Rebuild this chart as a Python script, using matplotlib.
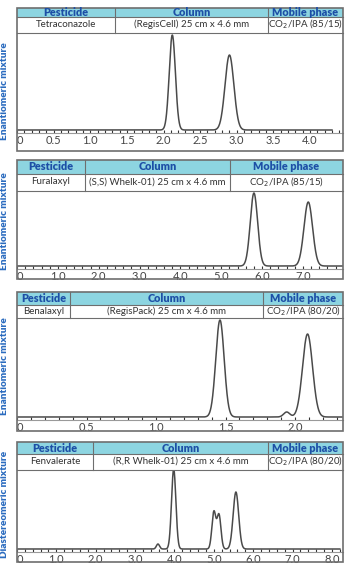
import numpy as np
import matplotlib.pyplot as plt
from matplotlib.patches import Rectangle

plt.rcParams["font.family"] = ["Lato", "DejaVu Sans"]

W, H = 350, 569

# table text
pesticides = ["Tetraconazole", "Furalaxyl", "Benalaxyl", "Fenvalerate"]
columns = ["(RegisCell) 25 cm x 4.6 mm", "(S,S) Whelk-01) 25 cm x 4.6 mm",
           "(RegisPack) 25 cm x 4.6 mm", "(R,R Whelk-01) 25 cm x 4.6 mm"]
phases = ["CO$_2$/IPA (85/15)", "CO$_2$/IPA (85/15)",
          "CO$_2$/IPA (80/20)", "CO$_2$/IPA (80/20)"]
mixtures = ["Enantiomeric mixture", "Enantiomeric mixture",
            "Enantiomeric mixture", "Diastereomeric mixture"]

# peaks: retention time (min), height, width (sigma, min)
rt_1 = [2.12, 2.90]
ht_1 = [95, 75]
sd_1 = [0.042, 0.06]

rt_2 = [5.80, 7.13]
ht_2 = [73, 64]
sd_2 = [0.09, 0.105]

rt_3 = [1.46, 1.94, 2.09]
ht_3 = [97, 5, 83]
sd_3 = [0.03, 0.022, 0.036]

rt_4 = [3.58, 3.98, 5.00, 5.13, 5.56]
ht_4 = [5, 80, 37, 34, 57]
sd_4 = [0.04, 0.055, 0.05, 0.05, 0.07]

ticks_1 = [0, 0.5, 1.0, 1.5, 2.0, 2.5, 3.0, 3.5, 4.0]
ticks_2 = [0, 1.0, 2.0, 3.0, 4.0, 5.0, 6.0, 7.0]
ticks_3 = [0, 0.5, 1.0, 1.5, 2.0]
ticks_4 = [0, 1.0, 2.0, 3.0, 4.0, 5.0, 6.0, 7.0, 8.0]

xmax = [4.45, 7.98, 2.345, 8.28]
trace_end = [4.30, 7.98, 2.345, 8.20]

# layout in pixels: box top, header bottom, row bottom, axis line, box bottom
boxes = [(8, 17, 33, 133, 151), (160, 174, 191, 269, 279),
         (292, 305, 318, 420, 431), (442, 454, 470, 552, 562)]
splits = [(115, 268), (85, 230), (70, 263), (93, 268)]
label_y = [91, 221, 366, 504]

X0, X1 = 17, 343
HEAD = "#8dd5e1"
BLUE = "#1d4fa6"
EDGE = "#6e6e6e"


def fx(x):
    return x / W


def fy(y):
    return 1 - y / H


def trace(t, rts, hts, sds):
    y = np.zeros_like(t)
    for r, h, s in zip(rts, hts, sds):
        y += h * np.exp(-0.5 * ((t - r) / s) ** 2)
    return y


fig = plt.figure(figsize=(W / 100, H / 100), dpi=100)

peaks = [(rt_1, ht_1, sd_1), (rt_2, ht_2, sd_2), (rt_3, ht_3, sd_3), (rt_4, ht_4, sd_4)]
ticks = [ticks_1, ticks_2, ticks_3, ticks_4]

for i in range(4):
    top, hb, rb, axy, bot = boxes[i]
    c1, c2 = splits[i]

    # header band and cell lines
    fig.add_artist(Rectangle((fx(X0), fy(hb)), fx(X1 - X0), (hb - top) / H,
                             transform=fig.transFigure, facecolor=HEAD,
                             edgecolor="none", zorder=1))
    for yy in (hb, rb):
        fig.add_artist(plt.Line2D([fx(X0), fx(X1)], [fy(yy), fy(yy)],
                                  transform=fig.transFigure, color=EDGE, lw=0.8))
    for xx in (c1, c2):
        fig.add_artist(plt.Line2D([fx(xx), fx(xx)], [fy(top), fy(rb)],
                                  transform=fig.transFigure, color=EDGE, lw=0.8))
    fig.add_artist(Rectangle((fx(X0), fy(bot)), fx(X1 - X0), (bot - top) / H,
                             transform=fig.transFigure, facecolor="none",
                             edgecolor=EDGE, lw=1.2, zorder=3))

    cols = [(X0, c1), (c1, c2), (c2, X1)]
    heads = ["Pesticide", "Column", "Mobile phase"]
    vals = [pesticides[i], columns[i], phases[i]]
    for (a, b), hd, v in zip(cols, heads, vals):
        fig.text(fx((a + b) / 2), fy((top + hb) / 2), hd, ha="center", va="center",
                 fontsize=7.8, fontweight="heavy", color=BLUE)
        fig.text(fx((a + b) / 2), fy((hb + rb) / 2 - 0.5), v, ha="center", va="center",
                 fontsize=7.0, color="#333333")

    fig.text(fx(5), fy(label_y[i]), mixtures[i], rotation=90, ha="center",
             va="center", fontsize=7.2, fontweight="heavy", color="#2a6bbf")

    # chromatogram
    ax = fig.add_axes([fx(X0), fy(axy), fx(X1 - X0), (axy - rb) / H])
    ax.patch.set_alpha(0)
    t = np.linspace(0, trace_end[i], 2000)
    ax.plot(t, trace(t, *peaks[i]), color="#4a4a4a", lw=1.1)
    ax.set_xlim(0, xmax[i])
    ax.set_ylim(-3, axy - rb - 3)
    for s in ("top", "left", "right"):
        ax.spines[s].set_visible(False)
    ax.spines["bottom"].set_color("#9a9a9a")
    ax.spines["bottom"].set_linewidth(0.8)
    ax.set_yticks([])
    ax.set_xticks(ticks[i])
    ax.set_xticklabels(["0"] + ["%.1f" % v for v in ticks[i][1:]])
    ax.get_xticklabels()[0].set_ha("left")
    step = ticks[i][1] / 5 if ticks[i][1] < 1 else 0.2
    ax.set_xticks(np.arange(0, xmax[i], step), minor=True)
    ax.tick_params(axis="x", which="both", direction="in", length=2, width=0.8,
                   color="#333333", labelsize=8, labelcolor="#444444", pad=1.2)

fig.savefig("out.png", dpi=100)
